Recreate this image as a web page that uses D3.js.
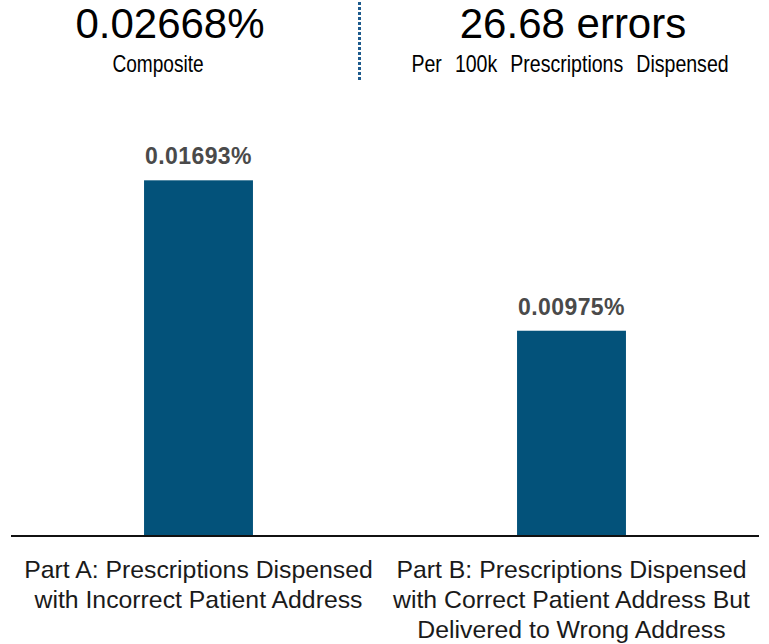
<!DOCTYPE html>
<html>
<head>
<meta charset="utf-8">
<script src="https://cdn.jsdelivr.net/npm/d3@7"></script>
<style>
  html, body { margin: 0; padding: 0; background: #fff; }
  svg { display: block; }
</style>
</head>
<body>
<svg id="chart" width="769" height="644"></svg>
<script>
// Error rates by category (percent of prescriptions dispensed)
const categories = ["Part A", "Part B"];
const categoryLabels = [
  ["Part A: Prescriptions Dispensed", "with Incorrect Patient Address"],
  ["Part B: Prescriptions Dispensed", "with Correct Patient Address But", "Delivered to Wrong Address"]
];
const values = [0.01693, 0.00975];
const valueLabels = ["0.01693%", "0.00975%"];

// Headline figures
const compositeValue = "0.02668%";
const compositeLabel = "Composite";
const errorsValue = "26.68 errors";
const errorsLabel = "Per 100k Prescriptions Dispensed";

const svg = d3.select("#chart");
const baseY = 535;
const sans = "'Liberation Sans', Arial, Helvetica, sans-serif";

const x = d3.scaleBand()
  .domain(categories)
  .range([12, 758])
  .paddingInner(0.708)
  .paddingOuter(0.354);

const y = d3.scaleLinear()
  .domain([0, 0.02])
  .range([baseY, baseY - 419]);

const barColor = "#03527a";

// Bars
svg.append("g").selectAll("rect")
  .data(values)
  .join("rect")
  .attr("x", (d, i) => x(categories[i]))
  .attr("width", x.bandwidth())
  .attr("y", d => y(d))
  .attr("height", d => y(0) - y(d))
  .attr("fill", barColor);

// Value labels above bars
svg.append("g").selectAll("text")
  .data(values)
  .join("text")
  .attr("x", (d, i) => x(categories[i]) + x.bandwidth() / 2)
  .attr("y", d => y(d) - 16)
  .attr("text-anchor", "middle")
  .attr("font-family", sans)
  .attr("font-size", 23)
  .attr("font-weight", "bold")
  .attr("letter-spacing", 0.4)
  .attr("fill", "#4a4a4a")
  .text((d, i) => valueLabels[i]);

// Baseline axis
const xAxis = d3.axisBottom(x).tickSize(0).tickFormat("");
const axisG = svg.append("g")
  .attr("transform", `translate(0,${baseY + 1})`)
  .call(xAxis);
axisG.select(".domain")
  .attr("d", "M11,0H759")
  .attr("stroke", "#111")
  .attr("stroke-width", 2);

// Category labels
const catG = svg.append("g");
categories.forEach((c, i) => {
  const cx = x(c) + x.bandwidth() / 2;
  const t = catG.append("text")
    .attr("x", cx)
    .attr("y", 578)
    .attr("text-anchor", "middle")
    .attr("font-family", sans)
    .attr("font-size", 24.8)
    .attr("fill", "#1a1a1a");
  categoryLabels[i].forEach((line, j) => {
    t.append("tspan")
      .attr("x", cx)
      .attr("dy", j === 0 ? 0 : 30)
      .text(line);
  });
});

// Headline block
const head = svg.append("g");
head.append("text")
  .attr("x", 170).attr("y", 38)
  .attr("text-anchor", "middle")
  .attr("font-family", sans)
  .attr("font-size", 42)
  .attr("fill", "#000")
  .text(compositeValue);
head.append("text")
  .attr("transform", "translate(158,72) scale(0.83,1)")
  .attr("text-anchor", "middle")
  .attr("font-family", sans)
  .attr("font-size", 23)
  .attr("fill", "#000")
  .text(compositeLabel);
head.append("text")
  .attr("x", 573).attr("y", 38)
  .attr("text-anchor", "middle")
  .attr("font-family", sans)
  .attr("font-size", 42)
  .attr("fill", "#000")
  .text(errorsValue);
head.append("text")
  .attr("transform", "translate(570,72) scale(0.85,1)")
  .attr("text-anchor", "middle")
  .attr("font-family", sans)
  .attr("font-size", 23)
  .attr("word-spacing", 9)
  .attr("fill", "#000")
  .text(errorsLabel);

// Dotted divider between headline figures
head.append("line")
  .attr("x1", 359.5).attr("x2", 359.5)
  .attr("y1", 2).attr("y2", 82)
  .attr("stroke", "#1d5a8c")
  .attr("stroke-width", 3)
  .attr("stroke-dasharray", "3,2");
</script>
</body>
</html>
